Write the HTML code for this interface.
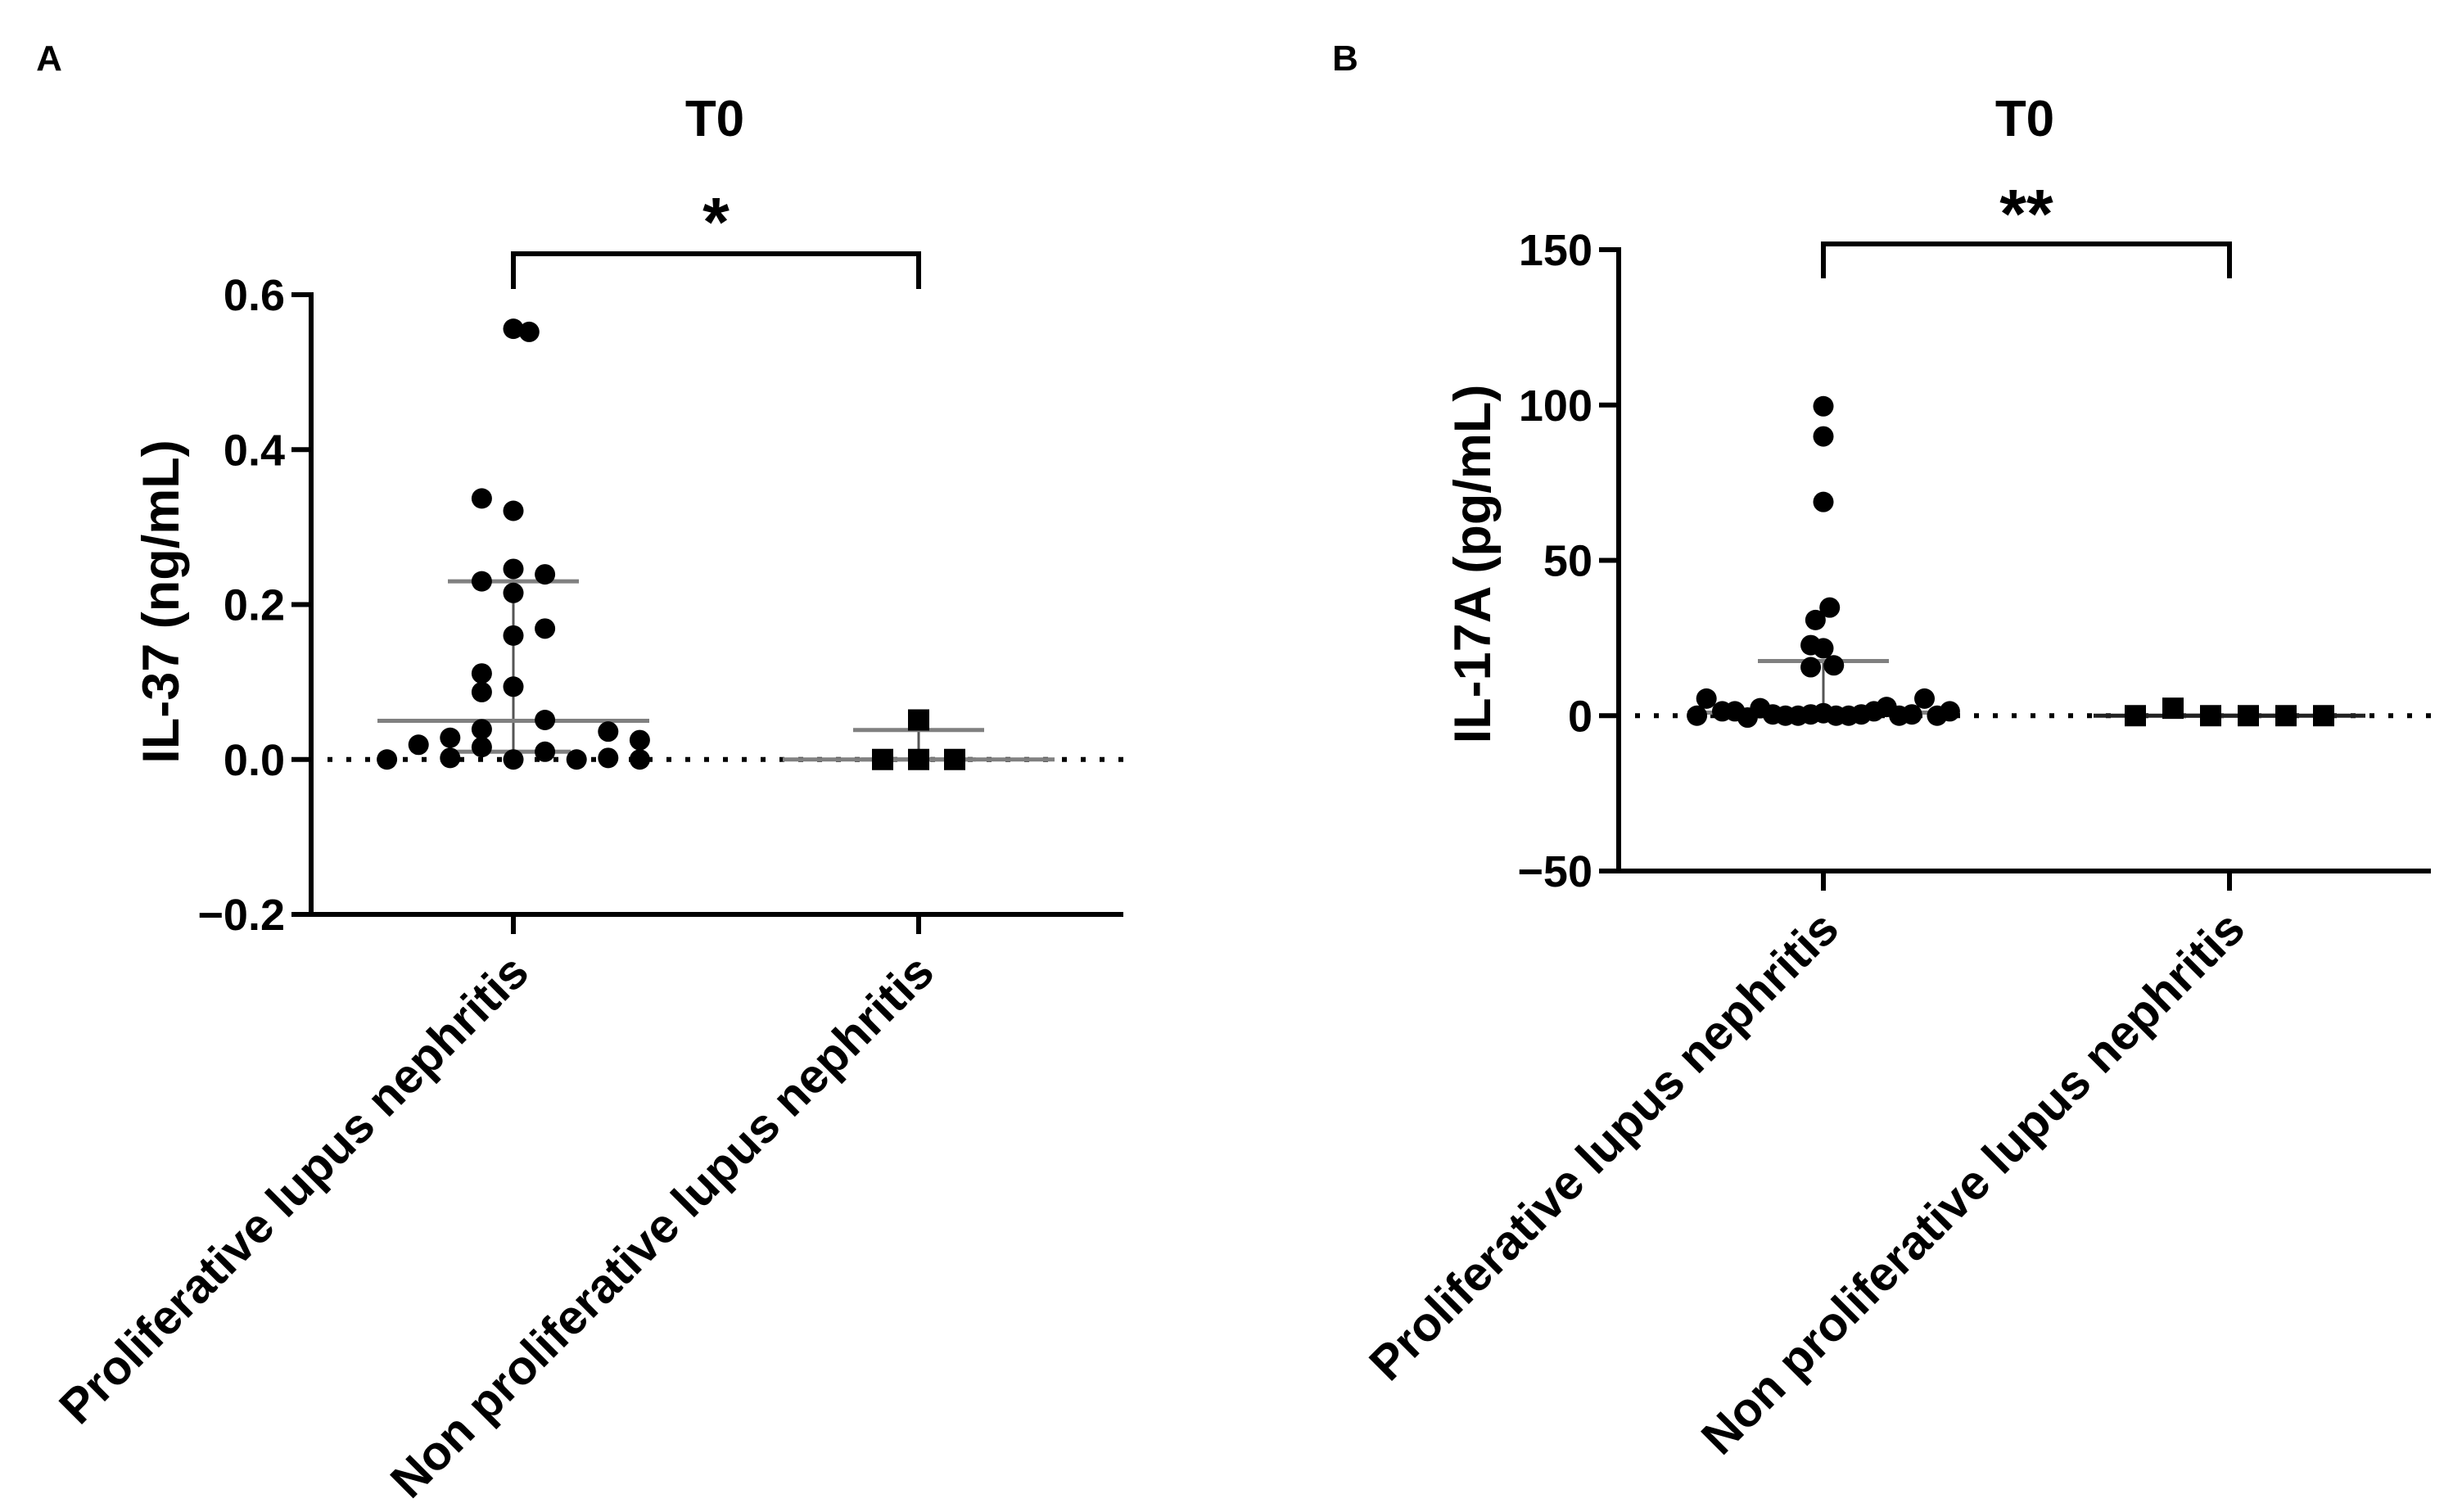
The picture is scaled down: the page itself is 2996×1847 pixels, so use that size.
<!DOCTYPE html>
<html><head><meta charset="utf-8">
<style>
html,body{margin:0;padding:0;background:#fff;}
svg{display:block;}
text{font-family:"Liberation Sans",Arial,sans-serif;font-weight:bold;fill:#000;}
</style></head>
<body>
<svg id="fig" width="2996" height="1847" viewBox="0 0 2996 1847" xmlns="http://www.w3.org/2000/svg">
<rect width="2996" height="1847" fill="#fff"/>
</svg>
<script>
// ---------- Panel A data (IL-37 ng/mL) ----------
const categories = ["Proliferative lupus nephritis", "Non proliferative lupus nephritis"];
const aTicks = [0.6, 0.4, 0.2, 0.0, -0.2];
const aTickLabels = ["0.6", "0.4", "0.2", "0.0", "\u22120.2"];
const aGroup1 = [0.556,0.552,0.337,0.321,0.23,0.246,0.239,0.215,0.160,0.169,0.111,0.087,0.094,0.051,0.039,0.036,0.028,0.025,0.019,0.016,0.010,0.002,0,0,0,0.002,0];
const aGroup1Slot = [0,0.5,-1,0,-1,0,1,0,0,1,-1,-1,0,1,-1,3,-2,4,-3,-1,1,-2,-4,0,2,3,4];
const aGroup2 = [0.051,0,0,0];
const aGroup2Slot = [0,-1,0,1];
const aStats1 = [0.01, 0.05, 0.23]; // Q1, median, Q3
const aStats2 = [0, 0, 0.038];
// ---------- Panel B data (IL-17A pg/mL) ----------
const bTicks = [150, 100, 50, 0, -50];
const bTickLabels = ["150", "100", "50", "0", "\u221250"];
const bGroup1 = [99.6,89.9,68.8,34.8,30.8,22.7,21.7,15.6,16.2,5.5,5.5,0,1.4,1.4,-0.6,2.4,0.4,0,0,0.4,0.8,0,0,0.4,1.4,2.8,0,0.4,0,1.4];
const bGroup1Slot = [0,0,0,0.2,-0.25,-0.4,0,-0.4,0.33,-3.7,3.2,-4.0,-3.2,-2.8,-2.4,-2.0,-1.6,-1.2,-0.8,-0.4,0,0.4,0.8,1.2,1.6,2.0,2.4,2.8,3.6,4.0];
const bGroup2 = [0,2.4,0,0,0,0];
const bGroup2Slot = [-2.5,-1.5,-0.5,0.5,1.5,2.5];
const bStats1 = [0, 1, 17.6];
const bStats2 = [0, 0, 0];

const NS = "http://www.w3.org/2000/svg";
const svg = document.getElementById("fig");
function el(tag, attrs, parent, txt){
  const e = document.createElementNS(NS, tag);
  for (const k in attrs) e.setAttribute(k, attrs[k]);
  if (txt !== undefined) e.textContent = txt;
  (parent || svg).appendChild(e);
  return e;
}

function panel(cfg){
  const g = el("g", {});
  
  
  const y = v => cfg.y0 + (cfg.vmax - v) / (cfg.vmax - cfg.vmin) * (cfg.y1 - cfg.y0);
  const X = cfg.cats;
  const L = el("text", {x: cfg.letterX, y: 86, "font-size": 44, "text-anchor": "middle"}, g, cfg.letter);
  
  
  const T = el("text", {x: cfg.titleX, y: 166, "font-size": 62, "text-anchor": "middle"}, g, "T0");
  
  
  const z = el("line", {x1: cfg.ax + 20, x2: cfg.xEnd, y1: y(0), y2: y(0), stroke: "#000", "stroke-width": 6, "stroke-dasharray": "6 17"}, g);
  
  
  const ya = el("line", {x1: cfg.ax, x2: cfg.ax, y1: y(cfg.vmax) - 3, y2: y(cfg.vmin) + 3, stroke: "#000", "stroke-width": 6}, g);
  
  
  const xa = el("line", {x1: cfg.ax - 3, x2: cfg.xEnd, y1: y(cfg.vmin), y2: y(cfg.vmin), stroke: "#000", "stroke-width": 6}, g);
  
  
  cfg.ticks.forEach((t, i) => {
    const tk = el("line", {x1: cfg.ax - 24, x2: cfg.ax, y1: y(t), y2: y(t), stroke: "#000", "stroke-width": 6}, g);
    
    
    const tl = el("text", {x: cfg.ax - 32, y: y(t) + 19, "font-size": 54, "text-anchor": "end"}, g, cfg.tickLabels[i]);
    
    
  });
  categories.forEach((c, i) => {
    const tk = el("line", {x1: X[i], x2: X[i], y1: y(cfg.vmin), y2: y(cfg.vmin) + 24, stroke: "#000", "stroke-width": 6}, g);
    
    
    const lx = X[i] + 22, ly = y(cfg.vmin) + 74;
    const tl = el("text", {x: lx, y: ly, "font-size": 59, "text-anchor": "end", transform: `rotate(-45 ${lx} ${ly})`}, g, c);
    
    
  });
  const yt = el("text", {x: cfg.ytX, y: cfg.ytY, "font-size": 63, "text-anchor": "middle", transform: `rotate(-90 ${cfg.ytX} ${cfg.ytY})`}, g, cfg.yTitle);
  
  
  [cfg.stats1, cfg.stats2].forEach((s, i) => {
    const cx = X[i];
    const v = el("line", {x1: cx, x2: cx, y1: y(s[0]), y2: y(s[2]), stroke: "#555", "stroke-width": 3}, g);
    
    
    [[s[0], 70], [s[2], 80]].forEach(([val, hw]) => {
      const w = el("line", {x1: cx - hw, x2: cx + hw, y1: y(val), y2: y(val), stroke: "#808080", "stroke-width": 5}, g);
      
      
    });
    const m = el("line", {x1: cx - 166, x2: cx + 166, y1: y(s[1]), y2: y(s[1]), stroke: i === 1 && cfg.darkMed2 ? "#222" : "#808080", "stroke-width": 5}, g);
    
    
  });
  cfg.g1.forEach((v, i) => {
    const c = el("circle", {cx: X[0] + cfg.g1Slot[i] * cfg.step1, cy: y(v), r: 12.5, fill: "#000"}, g);
    
    
  });
  cfg.g2.forEach((v, i) => {
    const cx = X[1] + cfg.g2Slot[i] * cfg.step2;
    const r = el("rect", {x: cx - 13, y: y(v) - 13, width: 26, height: 26, fill: "#000"}, g);
    
    
  });
  const br = el("path", {d: `M${X[0]} ${cfg.brBot} V${cfg.brTop} H${X[1]} V${cfg.brBot}`, fill: "none", stroke: "#000", "stroke-width": 6}, g);
  
  
  const st = el("text", {x: (X[0] + X[1]) / 2, y: cfg.starY, "font-size": 84, "text-anchor": "middle"}, g, cfg.stars);
  
  
}

panel({name: "panel-a-il37", letter: "A", letterX: 60, titleX: 873, cats: [627, 1122],
  ax: 380, xEnd: 1372, y0: 360, y1: 1117, vmax: 0.6, vmin: -0.2,
  ticks: aTicks, tickLabels: aTickLabels, ytX: 218, ytY: 735, yTitle: "IL-37 (ng/mL)",
  g1: aGroup1, g1Slot: aGroup1Slot, step1: 38.6, g2: aGroup2, g2Slot: aGroup2Slot, step2: 44,
  stats1: aStats1, stats2: aStats2, brTop: 310, brBot: 353, starY: 300, stars: "*"});
panel({name: "panel-b-il17a", letter: "B", letterX: 1643, titleX: 2473, cats: [2227, 2723],
  ax: 1977, xEnd: 2969, y0: 305, y1: 1064, vmax: 150, vmin: -50,
  ticks: bTicks, tickLabels: bTickLabels, ytX: 1820, ytY: 689, yTitle: "IL-17A (pg/mL)",
  g1: bGroup1, g1Slot: bGroup1Slot, step1: 38.6, g2: bGroup2, g2Slot: bGroup2Slot, step2: 46,
  stats1: bStats1, stats2: bStats2, brTop: 298, brBot: 340, starY: 290, stars: "**", darkMed2: true});
</script>
</body></html>
